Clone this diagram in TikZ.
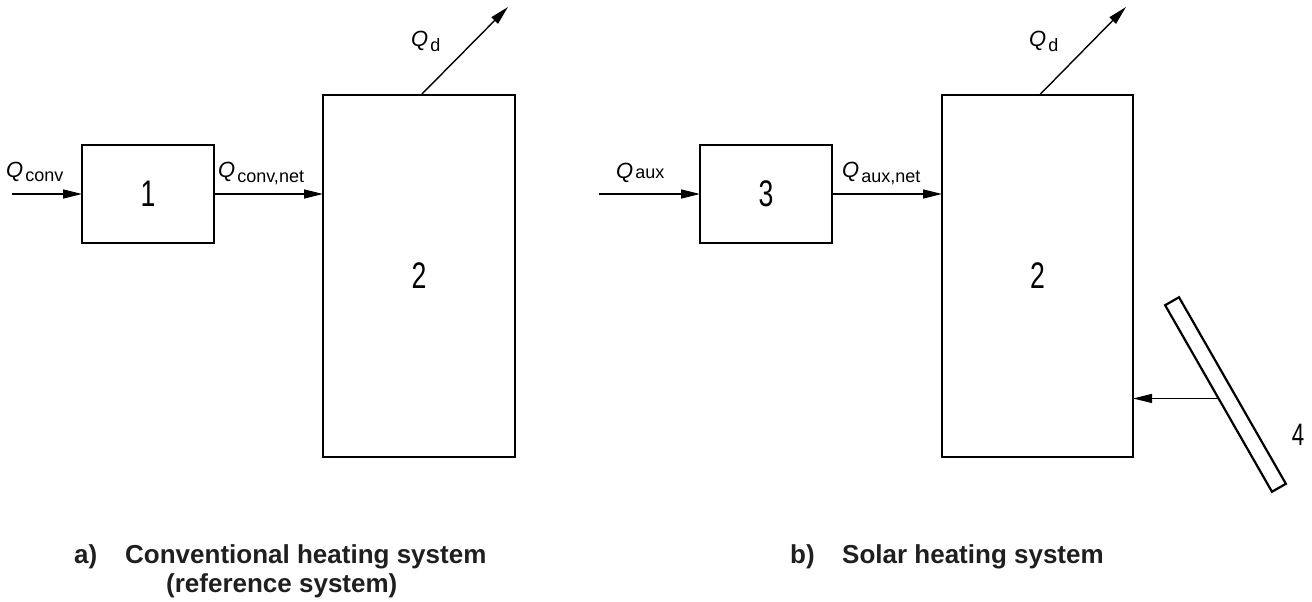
\documentclass[tikz,border=0pt]{standalone}
\usepackage{fontspec}
\setmainfont{Liberation Sans}
\newfontfamily\narrowiso[FakeStretch=0.72]{Liberation Sans}
\usetikzlibrary{arrows.meta}
\newcommand\Qlab[2]{{\fontsize{22}{22}\selectfont\itshape Q}\kern2pt\raisebox{#2}{\fontsize{18}{18}\selectfont #1}}
\tikzset{
  box/.style={draw, line width=2.6pt, inner sep=0pt, outer sep=0pt},
  num/.style={font=\narrowiso\fontsize{37}{37}\selectfont},
  arr/.style={line width=1.7pt, -{Triangle[length=19pt,width=9pt]}},
  thinarr/.style={line width=1.4pt, -{Triangle[length=19pt,width=9pt]}},
  qlab/.style={anchor=base west, inner sep=0pt},
  captext/.style={anchor=base west, inner sep=0pt, text=black!88, font=\bfseries\fontsize{26}{30}\selectfont},
}
\begin{document}
\begin{tikzpicture}[x=1pt,y=-1pt]
\useasboundingbox (0,0) rectangle (1312,602);
% ---------- a) conventional ----------
\node[box, num, minimum width=132pt, minimum height=98pt] (b1) at (148,194) {1};
\node[box, num, minimum width=192pt, minimum height=362pt] (b2a) at (419,276) {2};
\coordinate (inA) at (12,194);
\coordinate (qdA) at (508,7);
\draw[arr] (inA) -- (b1.west);
\draw[arr] (b1.east) -- (b1.east -| b2a.west);
\draw[thinarr] ([xshift=2pt]b2a.north) -- (qdA);
\node[qlab] (lqconv) at (6,177) {\Qlab{conv}{-4pt}};
\node[qlab] (lqconvnet) at (218,177) {\Qlab{conv,net}{-5pt}};
\node[qlab] (lqdA) at (411,47) {\Qlab{d}{-5pt}};
% ---------- b) solar ----------
\node[box, num, minimum width=132pt, minimum height=98pt] (b3) at (766,194) {3};
\node[box, num, minimum width=191pt, minimum height=362pt] (b2b) at (1037.5,276) {2};
\coordinate (inB) at (599,194);
\coordinate (qdB) at (1126,7);
\draw[arr] (inB) -- (b3.west);
\draw[arr] (b3.east) -- (b3.east -| b2b.west);
\draw[thinarr] ([xshift=2pt]b2b.north) -- (qdB);
\node[qlab] (lqaux) at (616,178) {\Qlab{aux}{0pt}};
\node[qlab] (lqauxnet) at (842,177) {\Qlab{aux,net}{-5pt}};
\node[qlab] (lqdB) at (1029,47) {\Qlab{d}{-5pt}};
% collector
\node[draw, line width=2.2pt, inner sep=0pt, outer sep=0pt, minimum width=215pt, minimum height=16pt, rotate=-60.2] (coll) at (1225.5,394.5) {};
\draw[thinarr] (coll.south) -- (coll.south -| b2b.east);
\node[font=\narrowiso\fontsize{31}{31}\selectfont] (l4) at (1298,435) {4};
% ---------- captions ----------
\node[captext] (capa) at (74,563) {a)};
\node[captext] (capa1) at (125,563) {Conventional heating system};
\node[captext] (capa2) at (166,592) {(reference system)};
\node[captext] (capb) at (790,563) {b)};
\node[captext] (capb1) at (842,563) {Solar heating system};
\end{tikzpicture}
\end{document}
